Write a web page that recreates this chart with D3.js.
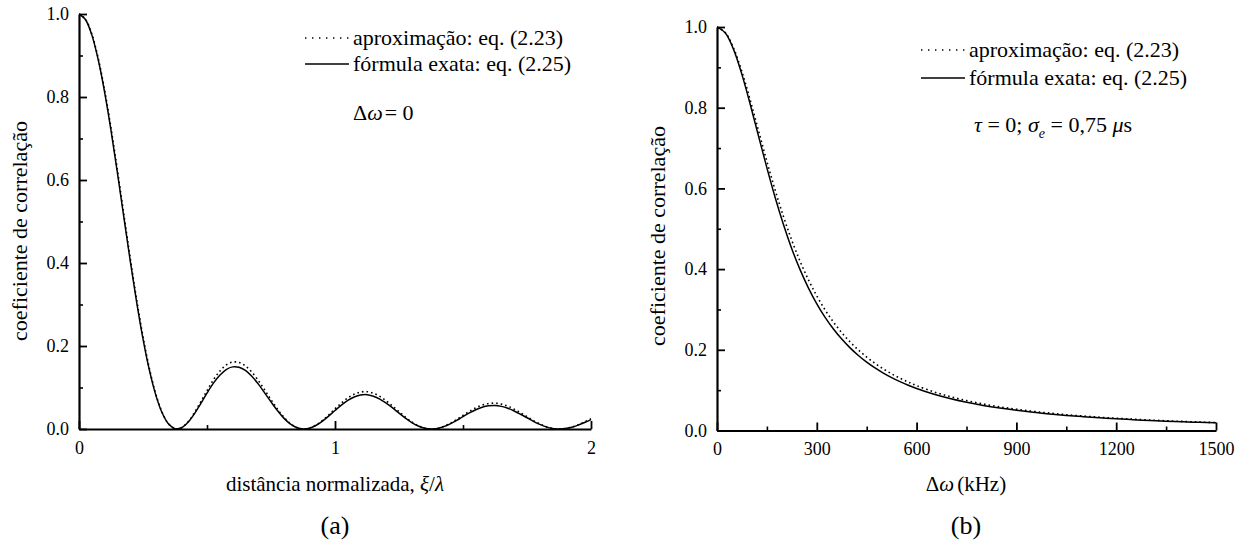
<!DOCTYPE html>
<html><head><meta charset="utf-8">
<script src="https://cdn.jsdelivr.net/npm/d3@7"></script>
<style>
html,body{margin:0;padding:0;background:#fff;}
svg text{font-family:'Liberation Serif','Tinos','Times New Roman','Times','DejaVu Serif','Noto Serif',serif;fill:#000;}
</style></head><body>
<svg id="chart" width="1246" height="548"></svg>
<script>
// ---- panel (a): correlation vs normalized distance ----
const xiA = [0,0.025,0.05,0.075,0.1,0.125,0.15,0.175,0.2,0.225,0.25,0.275,0.3,0.325,0.35,0.375,0.4,0.425,0.45,0.475,
  0.5,0.525,0.55,0.575,0.6,0.625,0.65,0.675,0.7,0.725,0.75,0.775,0.8,0.825,0.85,0.875,0.9,0.925,0.95,0.975,
  1.0,1.025,1.05,1.075,1.1,1.125,1.15,1.175,1.2,1.225,1.25,1.275,1.3,1.325,1.35,1.375,1.4,1.425,1.45,1.475,
  1.5,1.525,1.55,1.575,1.6,1.625,1.65,1.675,1.7,1.725,1.75,1.775,1.8,1.825,1.85,1.875,1.9,1.925,1.95,1.975,2.0];
const approxA = [1.0000,0.9877,0.9516,0.8935,0.8167,0.7254,0.6240,0.5180,0.4124,0.3129,0.2227,0.1458,0.0844,0.0399,0.0123,0.0007,0.0030,0.0166,0.0383,0.0649,
  0.0925,0.1185,0.1392,0.1543,0.1613,0.1604,0.1521,0.1370,0.1174,0.0943,0.0707,0.0480,0.0284,0.0134,0.0038,0.0001,0.0020,0.0091,0.0201,0.0337,
  0.0485,0.0625,0.0749,0.0838,0.0890,0.0899,0.0860,0.0786,0.0678,0.0553,0.0417,0.0286,0.0170,0.0080,0.0022,0.0000,0.0014,0.0062,0.0136,0.0228,
  0.0328,0.0426,0.0510,0.0576,0.0613,0.0623,0.0599,0.0549,0.0477,0.0390,0.0298,0.0202,0.0121,0.0056,0.0015,0.0000,0.0011,0.0047,0.0102,0.0172,0.0247];
const exactA = [1.0000,0.9867,0.9497,0.8899,0.8118,0.7196,0.6178,0.5113,0.4058,0.3066,0.2174,0.1417,0.0817,0.0385,0.0118,0.0007,0.0029,0.0157,0.0360,0.0608,
  0.0864,0.1104,0.1295,0.1433,0.1497,0.1487,0.1410,0.1269,0.1087,0.0872,0.0654,0.0444,0.0262,0.0124,0.0035,0.0001,0.0018,0.0084,0.0185,0.0310,
  0.0446,0.0575,0.0689,0.0771,0.0819,0.0827,0.0790,0.0722,0.0622,0.0508,0.0382,0.0262,0.0156,0.0073,0.0020,0.0000,0.0013,0.0057,0.0124,0.0208,
  0.0299,0.0389,0.0465,0.0525,0.0558,0.0567,0.0545,0.0500,0.0434,0.0355,0.0271,0.0184,0.0110,0.0051,0.0014,0.0000,0.0010,0.0043,0.0093,0.0157,0.0225];
const xTickA = [0, 1, 2];
const xTickLabelA = ["0", "1", "2"];
const xMinorA = [0.5, 1.5];

// ---- panel (b): correlation vs frequency separation ----
const freqB = [0,25,50,75,100,125,150,175,200,225,250,275,300,325,350,375,400,425,450,475,500,525,550,575,600,
  650,700,750,800,850,900,950,1000,1050,1100,1150,1200,1250,1300,1350,1400,1450,1500];
const approxB = [1.0000,0.9863,0.9474,0.8890,0.8183,0.7424,0.6668,0.5952,0.5296,0.4708,0.4188,0.3732,0.3335,0.2989,0.2688,0.2425,0.2196,0.1996,0.1819,0.1664,0.1526,0.1404,0.1296,0.1199,0.1112,
  0.0963,0.0842,0.0741,0.0657,0.0587,0.0527,0.0475,0.0431,0.0392,0.0359,0.0329,0.0303,0.0280,0.0260,0.0241,0.0225,0.0210,0.0196];
const exactB = [1.0000,0.9853,0.9440,0.8820,0.8080,0.7290,0.6510,0.5770,0.5100,0.4500,0.3980,0.3530,0.3140,0.2805,0.2515,0.2265,0.2048,0.1860,0.1694,0.1550,0.1422,0.1310,0.1210,0.1121,0.1041,
  0.0904,0.0793,0.0700,0.0622,0.0557,0.0501,0.0452,0.0411,0.0374,0.0343,0.0315,0.0290,0.0268,0.0249,0.0231,0.0216,0.0202,0.0189];
const xTickB = [0, 300, 600, 900, 1200, 1500];
const xTickLabelB = ["0", "300", "600", "900", "1200", "1500"];
const xMinorB = [150, 450, 750, 1050, 1350];

// ---- shared ----
const yTick = [0, 0.2, 0.4, 0.6, 0.8, 1.0];
const yTickLabel = ["0.0", "0.2", "0.4", "0.6", "0.8", "1.0"];
const yMinor = [0.1, 0.3, 0.5, 0.7, 0.9];
const legendLabels = ["aproximação: eq. (2.23)", "fórmula exata: eq. (2.25)"];
const yTitle = "coeficiente de correlação";

const SERIF = "'Liberation Serif','Tinos','Times New Roman','Times','DejaVu Serif','Noto Serif',serif";
const svg = d3.select("#chart").attr("font-family", SERIF);
const DOTS = "1.6 3";

function drawPanel(cfg) {
  const x = d3.scaleLinear().domain(cfg.xDomain).range(cfg.xRange);
  const y = d3.scaleLinear().domain([0, 1]).range(cfg.yRange);
  const g = svg.append("g").attr("class", cfg.id);

  const clipId = "clip-" + cfg.id;
  svg.append("defs").append("clipPath").attr("id", clipId)
    .append("rect")
    .attr("x", cfg.xRange[0]).attr("y", cfg.yRange[1] - 4)
    .attr("width", cfg.xRange[1] - cfg.xRange[0] + 1)
    .attr("height", cfg.yRange[0] - cfg.yRange[1] + 4);

  const line = d3.line()
    .x(d => x(d[0])).y(d => y(d[1]))
    .curve(d3.curveCatmullRom.alpha(0.5));

  const curves = g.append("g").attr("clip-path", `url(#${clipId})`);
  curves.append("path")
    .datum(cfg.xs.map((v, i) => [v, cfg.approx[i]]))
    .attr("d", line).attr("fill", "none")
    .attr("stroke", "#000").attr("stroke-width", 1.6)
    .attr("stroke-dasharray", DOTS);
  curves.append("path")
    .datum(cfg.xs.map((v, i) => [v, cfg.exact[i]]))
    .attr("d", line).attr("fill", "none")
    .attr("stroke", "#000").attr("stroke-width", 1.5);

  // minor ticks (inside, short)
  g.append("g").attr("transform", `translate(0,${cfg.yRange[0]})`)
    .call(d3.axisBottom(x).tickValues(cfg.xMinor).tickSize(-4).tickSizeOuter(0).tickFormat(""))
    .call(a => a.select(".domain").remove())
    .call(a => a.selectAll("line").attr("stroke-width", 1.6));
  g.append("g").attr("transform", `translate(${cfg.xRange[0]},0)`)
    .call(d3.axisLeft(y).tickValues(yMinor).tickSize(-4).tickSizeOuter(0).tickFormat(""))
    .call(a => a.select(".domain").remove())
    .call(a => a.selectAll("line").attr("stroke-width", 1.6));

  // major axes
  const xa = g.append("g").attr("transform", `translate(0,${cfg.yRange[0]})`)
    .call(d3.axisBottom(x).tickValues(cfg.xTicks).tickSize(-8).tickSizeOuter(0).tickPadding(12)
      .tickFormat((d, i) => cfg.xTickLabels[i]));
  const ya = g.append("g").attr("transform", `translate(${cfg.xRange[0]},0)`)
    .call(d3.axisLeft(y).tickValues(yTick).tickSize(-8).tickSizeOuter(0).tickPadding(10)
      .tickFormat((d, i) => yTickLabel[i]));
  [xa, ya].forEach(a => {
    a.attr("font-family", SERIF);
    a.select(".domain").attr("stroke-width", 2.2).attr("stroke", "#000");
    a.selectAll(".tick line").attr("stroke-width", 1.8).attr("stroke", "#000");
    a.selectAll(".tick text").attr("font-size", 18).attr("fill", "#000");
  });

  // y title
  g.append("text")
    .attr("transform", `translate(${cfg.xRange[0] - 52},${cfg.yTitleY}) rotate(-90)`)
    .attr("text-anchor", "middle").attr("font-size", 22)
    .text(yTitle);

  // legend
  const lx = cfg.legendX, ly = cfg.legendY;
  g.append("line").attr("x1", lx).attr("x2", lx + 44).attr("y1", ly).attr("y2", ly)
    .attr("stroke", "#000").attr("stroke-width", 1.4).attr("stroke-dasharray", "1.4 5.6");
  g.append("line").attr("x1", lx).attr("x2", lx + 44).attr("y1", ly + cfg.legendGap).attr("y2", ly + cfg.legendGap)
    .attr("stroke", "#000").attr("stroke-width", 1.5);
  legendLabels.forEach((t, i) => {
    g.append("text").attr("x", lx + 48).attr("y", ly + i * cfg.legendGap + 7)
      .attr("font-size", 22).text(t);
  });

  return { x, y, g };
}

// panel (a)
const pa = drawPanel({
  id: "a", xs: xiA, approx: approxA, exact: exactA,
  xDomain: [0, 2], xRange: [79, 591], yRange: [429, 14],
  xTicks: xTickA, xTickLabels: xTickLabelA, xMinor: xMinorA,
  yTitleY: 231, legendX: 305, legendY: 38, legendGap: 26
});
// Δω = 0 annotation
const annA = pa.g.append("text").attr("x", 353).attr("y", 120).attr("font-size", 22);
annA.append("tspan").text("Δ");
annA.append("tspan").attr("font-style", "italic").text("ω");
annA.append("tspan").attr("dx", 2).text("= 0");
// x title (a)
const xtA = pa.g.append("text").attr("x", 335).attr("y", 491).attr("text-anchor", "middle").attr("font-size", 21);
xtA.append("tspan").text("distância normalizada, ");
xtA.append("tspan").attr("font-style", "italic").text("ξ");
xtA.append("tspan").text("/");
xtA.append("tspan").attr("font-style", "italic").text("λ");
pa.g.append("text").attr("x", 335).attr("y", 534).attr("text-anchor", "middle")
  .attr("font-size", 26).text("(a)");

// panel (b)
const pb = drawPanel({
  id: "b", xs: freqB, approx: approxB, exact: exactB,
  xDomain: [0, 1500], xRange: [717, 1216], yRange: [430.5, 27],
  xTicks: xTickB, xTickLabels: xTickLabelB, xMinor: xMinorB,
  yTitleY: 236, legendX: 921, legendY: 50, legendGap: 28
});
const annB = pb.g.append("text").attr("x", 974).attr("y", 132).attr("font-size", 22);
annB.append("tspan").attr("font-style", "italic").text("τ");
annB.append("tspan").text(" = 0; ");
annB.append("tspan").attr("font-style", "italic").text("σ");
annB.append("tspan").attr("font-style", "italic").attr("font-size", 14).attr("dy", 6).text("e");
annB.append("tspan").attr("dy", -6).text(" = 0,75 ");
annB.append("tspan").attr("font-style", "italic").text("μ");
annB.append("tspan").text("s");
const xtB = pb.g.append("text").attr("x", 966).attr("y", 491).attr("text-anchor", "middle").attr("font-size", 21);
xtB.append("tspan").text("Δ");
xtB.append("tspan").attr("font-style", "italic").text("ω");
xtB.append("tspan").attr("dx", 3).text("(kHz)");
pb.g.append("text").attr("x", 966).attr("y", 534).attr("text-anchor", "middle")
  .attr("font-size", 26).text("(b)");
</script>
</body></html>
